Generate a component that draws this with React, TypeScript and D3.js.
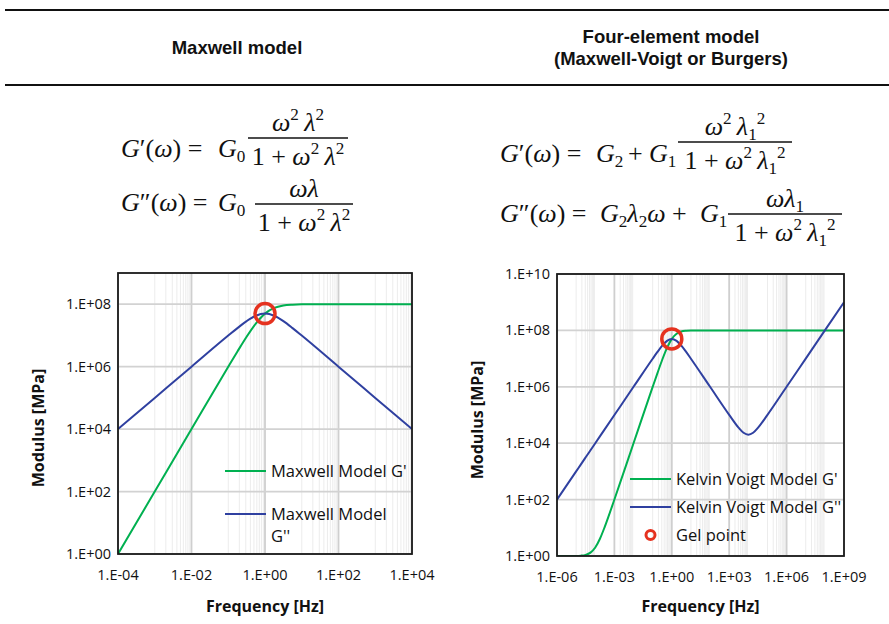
import React from 'react';
import * as d3 from 'd3';

// ---- data ----
const maxwellFreq = [1e-4, 1e-3, 1e-2, 1e-1, 0.178, 0.316, 0.562, 1, 1.78, 3.16, 5.62, 10, 100, 1e3, 1e4];
const maxwellGp = [1, 100, 1e4, 9.9e5, 3.06e6, 9.1e6, 2.4e7, 5e7, 7.6e7, 9.1e7, 9.69e7, 9.9e7, 1e8, 1e8, 1e8];
const maxwellGpp = [1e4, 1e5, 1e6, 9.9e6, 1.72e7, 2.87e7, 4.27e7, 5e7, 4.27e7, 2.87e7, 1.72e7, 9.9e6, 1e6, 1e5, 1e4];

const kvFreq = [
  1e-6, 1e-5, 1.78e-5, 3.16e-5, 5.62e-5, 1e-4, 1.78e-4, 3.16e-4, 1e-3, 1e-2, 0.1, 0.178, 0.316, 0.562, 1,
  1.78, 3.16, 5.62, 10, 100, 1e3, 3.16e3, 5.62e3, 1e4, 1.78e4, 3.16e4, 1e5, 1e6, 1e7, 1e8, 1e9,
];
const kvGp = [
  1, 1.01, 1.03, 1.1, 1.32, 2, 4.17, 11, 101, 1e4, 9.9e5, 3.06e6, 9.1e6, 2.4e7, 5e7,
  7.6e7, 9.1e7, 9.69e7, 9.9e7, 1e8, 1e8, 1e8, 1e8, 1e8, 1e8, 1e8, 1e8, 1e8, 1e8, 1e8, 1e8,
];
const kvGpp = [
  100, 1e3, 1.78e3, 3.16e3, 5.62e3, 1e4, 1.78e4, 3.16e4, 1e5, 1e6, 9.9e6, 1.72e7, 2.87e7, 4.27e7, 5e7,
  4.27e7, 2.87e7, 1.72e7, 9.9e6, 1e6, 1.01e5, 3.48e4, 2.34e4, 2e4, 2.34e4, 3.48e4, 1.01e5, 1e6, 1e7, 1e8, 1e9,
];

const gelPoint = [1, 5e7];

const maxwellXTicks = [1e-4, 1e-2, 1, 1e2, 1e4];
const maxwellXLabels = ['1.E-04', '1.E-02', '1.E+00', '1.E+02', '1.E+04'];
const maxwellYTicks = [1, 1e2, 1e4, 1e6, 1e8];
const maxwellYLabels = ['1.E+00', '1.E+02', '1.E+04', '1.E+06', '1.E+08'];

const kvXTicks = [1e-6, 1e-3, 1, 1e3, 1e6, 1e9];
const kvXLabels = ['1.E-06', '1.E-03', '1.E+00', '1.E+03', '1.E+06', '1.E+09'];
const kvYTicks = [1, 1e2, 1e4, 1e6, 1e8, 1e10];
const kvYLabels = ['1.E+00', '1.E+02', '1.E+04', '1.E+06', '1.E+08', '1.E+10'];

const GREEN = '#00b050';
const BLUE = '#2f40a0';
const RED = '#e5321f';
const UI = '"Open Sans", "Noto Sans", sans-serif';
const MATH = '"Liberation Serif", "DejaVu Serif", serif';

// minor log gridlines, Excel style: 1..9 x 10^k for odd k
function minorLines(lo: number, hi: number) {
  const out: number[] = [];
  for (let k = lo; k < hi; k++) {
    if (Math.abs(k) % 2 !== 1) continue;
    for (let j = 1; j <= 9; j++) out.push(j * Math.pow(10, k));
  }
  return out;
}

type Part = [string, 'i' | 'r' | 'sub' | 'sup'];

function Mth({ x, y, parts, size = 26, anchor = 'start' }: { x: number; y: number; parts: Part[]; size?: number; anchor?: string }) {
  let shift = 0;
  return (
    <text x={x} y={y} textAnchor={anchor} fontFamily={MATH} fontSize={size} fill="#111">
      {parts.map(([t, k], i) => {
        const target = k === 'sup' ? -0.42 * size : k === 'sub' ? 0.2 * size : 0;
        const dy = target - shift;
        shift = target;
        const small = k === 'sup' || k === 'sub';
        return (
          <tspan key={i} dy={dy} fontSize={small ? size * 0.66 : size} fontStyle={k === 'i' ? 'italic' : 'normal'}>
            {t}
          </tspan>
        );
      })}
    </text>
  );
}

const Gp: Part[] = [['G', 'i'], ['′', 'r'], ['(', 'r'], ['ω', 'i'], [')', 'r'], [' =', 'r']];
const Gpp: Part[] = [['G', 'i'], ['″', 'r'], ['(', 'r'], ['ω', 'i'], [')', 'r'], [' =', 'r']];
const w2l2: Part[] = [['ω', 'i'], ['2', 'sup'], ['\u2009λ', 'i'], ['2', 'sup']];
const w2l12: Part[] = [['ω', 'i'], ['2', 'sup'], ['\u2009λ', 'i'], ['1', 'sub'], ['2', 'sup']];

function Frac({ x0, x1, y, num, den }: { x0: number; x1: number; y: number; num: Part[]; den: Part[] }) {
  const cx = (x0 + x1) / 2;
  return (
    <g>
      <line x1={x0} x2={x1} y1={y} y2={y} stroke="#111" strokeWidth={1.6} />
      <Mth x={cx} y={y - 7} parts={num} anchor="middle" />
      <Mth x={cx} y={y + 27} parts={den} anchor="middle" />
    </g>
  );
}

type Series = { xs: number[]; ys: number[]; color: string };
type LegendItem = { kind: 'line' | 'marker'; color: string; lines: string[]; y: number };

function Panel(props: {
  box: { x0: number; x1: number; y0: number; y1: number };
  xDomain: [number, number];
  yDomain: [number, number];
  xTicks: number[];
  xLabels: string[];
  yTicks: number[];
  yLabels: string[];
  series: Series[];
  legend: LegendItem[];
  legendX: number;
  yTitleX: number;
  yTitleY: number;
}) {
  const { box, xDomain, yDomain, xTicks, xLabels, yTicks, yLabels, series, legend, legendX } = props;
  const x = d3.scaleLog().domain(xDomain).range([box.x0, box.x1]);
  const y = d3.scaleLog().domain(yDomain).range([box.y1, box.y0]);
  const line = d3
    .line<number[]>()
    .x(d => x(d[0]))
    .y(d => y(d[1]))
    .curve(d3.curveMonotoneX);
  const lo = Math.round(Math.log10(xDomain[0]));
  const hi = Math.round(Math.log10(xDomain[1]));
  const minors = minorLines(lo, hi);

  return (
    <g>
      <clipPath id={`clip-${box.x0}`}>
        <rect x={box.x0} y={box.y0} width={box.x1 - box.x0} height={box.y1 - box.y0} />
      </clipPath>
      {minors.map((v, i) => (
        <line key={'m' + i} x1={x(v)} x2={x(v)} y1={box.y0} y2={box.y1} stroke="#ececec" strokeWidth={1} />
      ))}
      {xTicks.map((v, i) => (
        <line key={'vx' + i} x1={x(v)} x2={x(v)} y1={box.y0} y2={box.y1} stroke="#cfcfcf" strokeWidth={1.8} />
      ))}
      {yTicks.map((v, i) => (
        <line key={'hy' + i} x1={box.x0} x2={box.x1} y1={y(v)} y2={y(v)} stroke="#d2d2d2" strokeWidth={1.8} />
      ))}
      <g clipPath={`url(#clip-${box.x0})`}>
        {series.map((s, i) => (
          <path key={i} d={line(s.xs.map((v, j) => [v, s.ys[j]])) || ''} fill="none" stroke={s.color} strokeWidth={2} />
        ))}
      </g>
      <circle cx={x(gelPoint[0])} cy={y(gelPoint[1])} r={10} fill="none" stroke={RED} strokeWidth={3.5} />
      <rect x={box.x0} y={box.y0} width={box.x1 - box.x0} height={box.y1 - box.y0} fill="none" stroke="#1a1a1a" strokeWidth={1.8} />
      {xTicks.map((v, i) => (
        <text key={'xl' + i} x={x(v)} y={box.y1 + 26} textAnchor="middle" fontFamily={UI} fontSize={14.5} fill="#111">
          {xLabels[i]}
        </text>
      ))}
      {yTicks.map((v, i) => (
        <text key={'yl' + i} x={box.x0 - 7} y={y(v)} dy="0.35em" textAnchor="end" fontFamily={UI} fontSize={14.5} fill="#111">
          {yLabels[i]}
        </text>
      ))}
      <text
        x={(box.x0 + box.x1) / 2}
        y={612}
        textAnchor="middle"
        fontFamily={UI}
        fontWeight="bold"
        fontSize={16}
        fill="#111"
      >
        Frequency [Hz]
      </text>
      <text
        transform={`translate(${props.yTitleX},${props.yTitleY}) rotate(-90)`}
        textAnchor="middle"
        fontFamily={UI}
        fontWeight="bold"
        fontSize={16}
        fill="#111"
      >
        Modulus [MPa]
      </text>
      {legend.map((it, i) => (
        <g key={'lg' + i}>
          {it.kind === 'line' ? (
            <line x1={legendX} x2={legendX + 41} y1={it.y} y2={it.y} stroke={it.color} strokeWidth={2} />
          ) : (
            <circle cx={legendX + 20.5} cy={it.y} r={4.5} fill="none" stroke={it.color} strokeWidth={3} />
          )}
          {it.lines.map((t, k) => (
            <text key={k} x={legendX + 46} y={it.y + 6 + k * 22} fontFamily={UI} fontSize={16.5} fill="#111">
              {t}
            </text>
          ))}
        </g>
      ))}
    </g>
  );
}

export default function App() {
  return (
    <svg width={889} height={624} style={{ position: 'absolute', left: 0, top: 0, background: '#fff' }}>
      <rect width={889} height={624} fill="#fff" />
      {/* header table */}
      <line x1={5} x2={889} y1={10} y2={10} stroke="#111" strokeWidth={2} />
      <line x1={5} x2={889} y1={85} y2={85} stroke="#111" strokeWidth={2} />
      <g fontFamily='"Liberation Sans", Arial, sans-serif' fontWeight="bold" fontSize={18.5} fill="#111" textAnchor="middle">
        <text x={237} y={54}>Maxwell model</text>
        <text x={671} y={43}>Four-element model</text>
        <text x={671} y={65}>(Maxwell-Voigt or Burgers)</text>
      </g>

      {/* Maxwell formulas */}
      <Mth x={121} y={157} parts={Gp} />
      <Mth x={218} y={157} parts={[['G', 'i'], ['0', 'sub']]} />
      <Frac x0={248} x1={348} y={138} num={w2l2} den={[['1 + ', 'r'], ...w2l2]} />
      <Mth x={121} y={211} parts={Gpp} />
      <Mth x={218} y={211} parts={[['G', 'i'], ['0', 'sub']]} />
      <Frac x0={255} x1={353} y={204} num={[['ω', 'i'], ['λ', 'i']]} den={[['1 + ', 'r'], ...w2l2]} />

      {/* four-element formulas */}
      <Mth x={500} y={162} parts={Gp} />
      <Mth x={596} y={162} parts={[['G', 'i'], ['2', 'sub']]} />
      <Mth x={628} y={162} parts={[['+', 'r']]} />
      <Mth x={649} y={162} parts={[['G', 'i'], ['1', 'sub']]} />
      <Frac x0={678} x1={792} y={142} num={w2l12} den={[['1 + ', 'r'], ...w2l12]} />
      <Mth x={500} y={222} parts={Gpp} />
      <Mth
        x={600}
        y={222}
        parts={[['G', 'i'], ['2', 'sub'], ['λ', 'i'], ['2', 'sub'], ['ω', 'i'], [' +', 'r']]}
      />
      <Mth x={700} y={222} parts={[['G', 'i'], ['1', 'sub']]} />
      <Frac x0={728} x1={842} y={214} num={[['ω', 'i'], ['λ', 'i'], ['1', 'sub']]} den={[['1 + ', 'r'], ...w2l12]} />

      <Panel
        box={{ x0: 118, x1: 412, y0: 273, y1: 554 }}
        xDomain={[1e-4, 1e4]}
        yDomain={[1, 1e9]}
        xTicks={maxwellXTicks}
        xLabels={maxwellXLabels}
        yTicks={maxwellYTicks}
        yLabels={maxwellYLabels}
        series={[
          { xs: maxwellFreq, ys: maxwellGp, color: GREEN },
          { xs: maxwellFreq, ys: maxwellGpp, color: BLUE },
        ]}
        legendX={225}
        legend={[
          { kind: 'line', color: GREEN, lines: ["Maxwell Model G'"], y: 471 },
          { kind: 'line', color: BLUE, lines: ['Maxwell Model', "G''"], y: 514 },
        ]}
        yTitleX={44}
        yTitleY={428}
      />
      <Panel
        box={{ x0: 557, x1: 844, y0: 274, y1: 556 }}
        xDomain={[1e-6, 1e9]}
        yDomain={[1, 1e10]}
        xTicks={kvXTicks}
        xLabels={kvXLabels}
        yTicks={kvYTicks}
        yLabels={kvYLabels}
        series={[
          { xs: kvFreq, ys: kvGp, color: GREEN },
          { xs: kvFreq, ys: kvGpp, color: BLUE },
        ]}
        legendX={630}
        legend={[
          { kind: 'line', color: GREEN, lines: ["Kelvin Voigt Model G'"], y: 479 },
          { kind: 'line', color: BLUE, lines: ["Kelvin Voigt Model G''"], y: 507 },
          { kind: 'marker', color: RED, lines: ['Gel point'], y: 535 },
        ]}
        yTitleX={483}
        yTitleY={420}
      />
    </svg>
  );
}
